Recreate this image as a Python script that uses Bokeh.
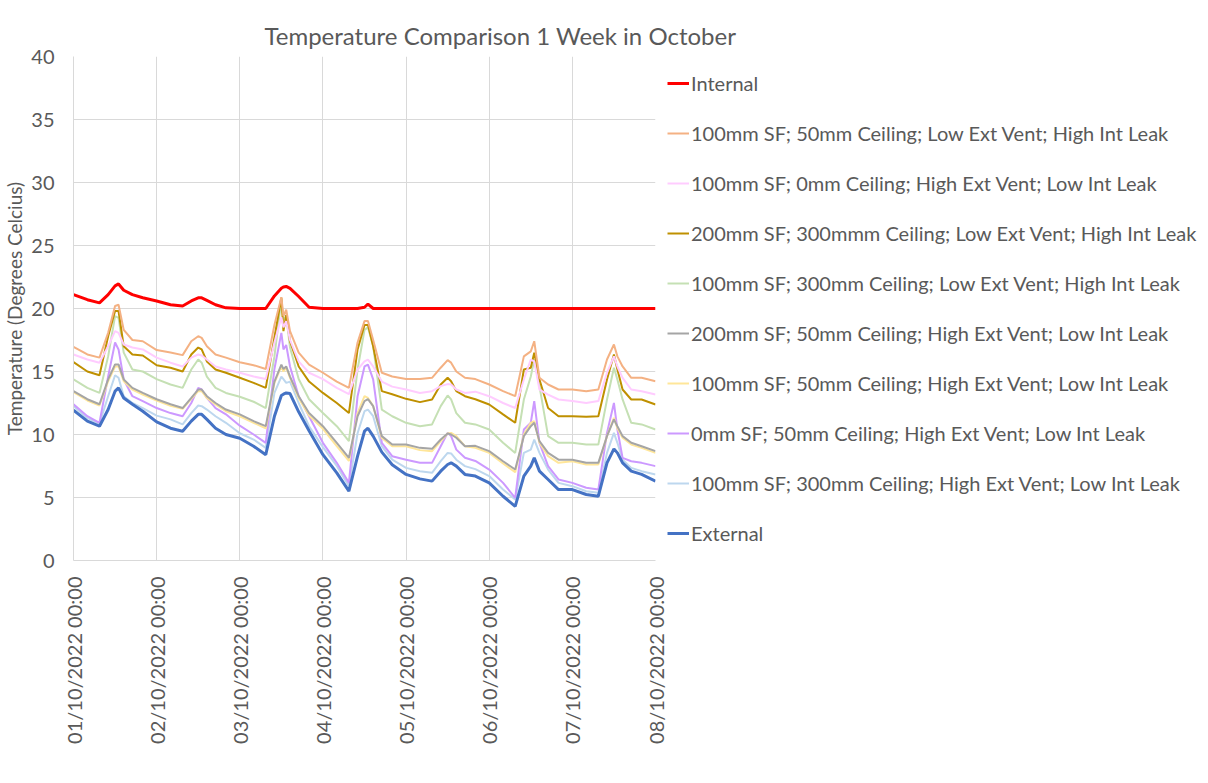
from bokeh.plotting import figure
from bokeh.models import Range1d, FixedTicker, Legend, LegendItem, Title
from bokeh.embed import file_html
from bokeh.resources import INLINE

# ---------------- data ----------------
hours = [0, 4, 7.5, 10, 12, 13, 14.5, 17, 20,
         24, 28, 31.5, 34, 36, 37, 38.5, 41, 44,
         48, 52, 55.5, 58, 60, 60.6, 61.4, 62.5, 65, 68,
         72, 76, 79.5, 82, 84, 85, 86.5, 89, 92,
         96, 100, 103.5, 106, 108, 109, 110.5, 113, 116,
         120, 124, 127.5, 130, 132, 133, 134.5, 137, 140,
         144, 148, 151.5, 154, 156, 157, 158.5, 161, 164, 168]

tick_labels = ["01/10/2022 00:00", "02/10/2022 00:00", "03/10/2022 00:00",
               "04/10/2022 00:00", "05/10/2022 00:00", "06/10/2022 00:00",
               "07/10/2022 00:00", "08/10/2022 00:00"]

internal = [21.1, 20.7, 20.45, 21.1, 21.8, 21.95, 21.45, 21.1, 20.85,
            20.6, 20.3, 20.2, 20.6, 20.85, 20.85, 20.65, 20.3, 20.05,
            20.0, 20.0, 20.0, 21.0, 21.6, 21.7, 21.75, 21.6, 20.95, 20.1,
            20.0, 20.0, 20.0, 20.0, 20.1, 20.35, 20.0, 20.0, 20.0,
            20.0, 20.0, 20.0, 20.0, 20.0, 20.0, 20.0, 20.0, 20.0,
            20.0, 20.0, 20.0, 20.0, 20.0, 20.0, 20.0, 20.0, 20.0,
            20.0, 20.0, 20.0, 20.0, 20.0, 20.0, 20.0, 20.0, 20.0, 20.0]

sf100_c50_lowvent_highleak = [
    16.96, 16.35, 16.1, 18.07, 20.2, 20.3, 18.3, 17.5, 17.4,
    16.7, 16.5, 16.3, 17.4, 17.8, 17.67, 17.0, 16.35, 16.1,
    15.74, 15.5, 15.2, 18.7, 20.9, 19.4, 19.9, 18.2, 16.5, 15.55,
    14.9, 14.2, 13.7, 17.3, 19.0, 19.0, 17.5, 14.9, 14.6,
    14.4, 14.4, 14.5, 15.3, 15.9, 15.7, 15.0, 14.5, 14.4,
    13.97, 13.44, 13.04, 16.2, 16.6, 17.4, 14.5, 13.97, 13.57,
    13.57, 13.44, 13.57, 15.95, 17.14, 16.2, 15.4, 14.5, 14.5, 14.23]

sf100_c0_highvent_lowleak = [
    16.35, 15.95, 15.7, 17.0, 18.2, 18.07, 17.14, 16.9, 16.75,
    16.1, 15.7, 15.4, 16.1, 16.35, 16.27, 15.95, 15.4, 15.16,
    14.9, 14.6, 14.4, 17.3, 19.3, 18.5, 19.0, 17.5, 15.8, 14.9,
    14.4, 13.7, 13.2, 15.16, 15.8, 15.95, 15.4, 14.2, 13.8,
    13.57, 13.3, 13.44, 13.84, 14.0, 13.97, 13.57, 13.3, 13.4,
    13.04, 12.5, 12.1, 14.37, 15.95, 15.8, 13.57, 13.17, 12.78,
    12.65, 12.5, 12.65, 14.9, 16.2, 15.4, 14.5, 13.57, 13.44, 13.17]

sf200_c300_lowvent_highleak = [
    15.74, 15.0, 14.7, 17.8, 19.8, 19.8, 17.0, 16.35, 16.27,
    15.5, 15.3, 15.0, 16.35, 16.9, 16.75, 15.8, 15.16, 14.9,
    14.5, 14.1, 13.7, 17.7, 20.85, 18.2, 19.5, 17.4, 15.4, 14.2,
    13.3, 12.5, 11.7, 16.75, 18.7, 18.7, 17.0, 13.44, 13.2,
    12.83, 12.57, 12.78, 13.97, 14.5, 14.23, 13.44, 13.04, 12.8,
    12.38, 11.6, 10.93, 15.16, 15.3, 16.5, 14.37, 12.1, 11.45,
    11.45, 11.4, 11.45, 14.37, 16.35, 15.16, 13.57, 12.78, 12.78, 12.38]

sf100_c300_lowvent_highleak = [
    14.37, 13.7, 13.3, 16.2, 19.4, 19.26, 16.5, 15.16, 15.0,
    14.4, 13.97, 13.7, 15.16, 15.95, 15.7, 14.6, 13.7, 13.3,
    13.0, 12.6, 12.1, 16.2, 20.7, 19.1, 19.4, 16.9, 14.4, 12.8,
    11.7, 10.66, 9.47, 15.16, 18.3, 18.5, 17.0, 11.98, 11.45,
    10.93, 10.66, 10.8, 12.25, 13.1, 12.78, 11.7, 10.93, 10.8,
    10.4, 9.34, 8.54, 12.78, 14.6, 15.95, 13.84, 9.87, 9.34,
    9.34, 9.2, 9.2, 12.78, 15.3, 14.37, 12.78, 10.93, 10.8, 10.4]

sf200_c50_highvent_lowleak = [
    13.44, 12.8, 12.4, 14.37, 15.56, 15.56, 14.37, 13.7, 13.3,
    12.8, 12.4, 12.1, 12.9, 13.57, 13.57, 13.04, 12.5, 11.98,
    11.6, 11.06, 10.66, 14.2, 15.55, 15.2, 15.4, 14.6, 13.04, 11.7,
    10.66, 9.34, 8.15, 11.45, 12.65, 12.8, 12.25, 9.87, 9.2,
    9.2, 8.94, 8.86, 9.6, 10.08, 10.0, 9.74, 9.07, 9.1,
    8.68, 7.88, 7.22, 9.87, 10.66, 10.93, 9.47, 8.54, 8.0,
    8.0, 7.75, 7.75, 9.87, 11.2, 10.66, 9.87, 9.34, 9.07, 8.68]

sf100_c50_highvent_lowleak = [
    13.36, 12.7, 12.3, 14.23, 15.4, 15.4, 14.23, 13.57, 13.17,
    12.7, 12.27, 12.04, 12.83, 13.44, 13.44, 12.9, 12.38, 11.85,
    11.45, 10.93, 10.48, 14.1, 15.4, 15.0, 15.3, 14.5, 12.9, 11.5,
    10.45, 9.07, 7.9, 11.7, 13.04, 12.9, 12.25, 9.73, 9.07,
    9.07, 8.76, 8.68, 9.47, 10.08, 10.13, 9.87, 9.07, 8.95,
    8.54, 7.7, 7.0, 10.0, 10.93, 11.06, 9.34, 8.28, 7.75,
    7.88, 7.62, 7.62, 9.87, 11.32, 10.5, 9.74, 9.2, 8.94, 8.54]

sf0_c50_highvent_lowleak = [
    12.4, 11.45, 10.93, 14.6, 17.3, 16.75, 14.37, 13.04, 12.65,
    12.1, 11.7, 11.45, 12.5, 13.7, 13.57, 12.9, 12.1, 11.6,
    10.7, 10.0, 9.34, 15.2, 18.07, 16.75, 17.1, 15.4, 13.04, 11.45,
    9.34, 7.75, 6.16, 13.04, 15.4, 15.55, 14.37, 9.34, 8.28,
    8.0, 7.75, 7.75, 9.07, 10.13, 9.87, 8.8, 8.15, 7.9,
    7.22, 6.16, 4.97, 10.4, 10.93, 12.65, 9.34, 7.49, 6.43,
    6.16, 5.77, 5.63, 10.13, 12.5, 10.4, 8.15, 7.88, 7.75, 7.49]

sf100_c300_highvent_lowleak = [
    12.25, 11.3, 10.87, 13.04, 14.7, 14.5, 13.04, 12.5, 12.1,
    11.5, 11.2, 10.8, 11.7, 12.3, 12.25, 11.98, 11.45, 10.93,
    10.1, 9.6, 8.94, 13.3, 14.6, 14.4, 14.1, 14.2, 12.5, 10.66,
    9.0, 7.5, 5.9, 10.1, 11.85, 11.98, 11.45, 9.07, 8.0,
    7.35, 7.09, 6.96, 7.88, 8.54, 8.5, 8.0, 7.49, 7.25,
    6.7, 5.63, 4.84, 8.54, 8.8, 9.6, 8.54, 7.22, 6.16,
    5.9, 5.5, 5.37, 8.54, 10.13, 9.34, 8.0, 7.35, 7.09, 6.83]

external = [11.93, 11.06, 10.66, 11.98, 13.44, 13.7, 12.9, 12.4, 11.85,
            11.0, 10.5, 10.26, 11.06, 11.6, 11.6, 11.2, 10.5, 10.0,
            9.7, 9.07, 8.4, 11.45, 13.1, 13.2, 13.3, 13.25, 11.8, 10.3,
            8.4, 6.96, 5.5, 8.28, 10.26, 10.5, 9.87, 8.6, 7.6,
            6.83, 6.48, 6.3, 7.09, 7.62, 7.75, 7.49, 6.83, 6.7,
            6.16, 5.1, 4.3, 6.7, 7.49, 8.15, 7.09, 6.43, 5.63,
            5.63, 5.24, 5.1, 7.75, 8.86, 8.54, 7.75, 7.09, 6.83, 6.3]

names = ["Internal",
         "100mm SF; 50mm Ceiling; Low Ext Vent; High Int Leak",
         "100mm SF; 0mm Ceiling; High Ext Vent; Low Int Leak",
         "200mm SF; 300mmm Ceiling; Low Ext Vent; High Int Leak",
         "100mm SF; 300mm Ceiling; Low Ext Vent; High Int Leak",
         "200mm SF; 50mm Ceiling; High Ext Vent; Low Int Leak",
         "100mm SF; 50mm Ceiling; High Ext Vent; Low Int Leak",
         "0mm SF; 50mm Ceiling; High Ext Vent; Low Int Leak",
         "100mm SF; 300mm Ceiling; High Ext Vent; Low Int Leak",
         "External"]
series = [internal, sf100_c50_lowvent_highleak, sf100_c0_highvent_lowleak,
          sf200_c300_lowvent_highleak, sf100_c300_lowvent_highleak,
          sf200_c50_highvent_lowleak, sf100_c50_highvent_lowleak,
          sf0_c50_highvent_lowleak, sf100_c300_highvent_lowleak, external]
colors = ["#FF0000", "#F4B183", "#FFCCFF", "#BF9000", "#C5E0B4",
          "#A5A5A5", "#FFE699", "#CC99FF", "#BDD7EE", "#4472C4"]
widths = [3, 2, 2, 2, 2, 2, 2, 2, 2, 3]

FONT = "Lato"
TXT = "#595959"

days = [h / 24.0 for h in hours]

p = figure(frame_width=582, frame_height=504,
           min_border_left=65, min_border_top=56, min_border_bottom=200,
           min_border_right=10,
           x_range=Range1d(0, 7), y_range=Range1d(0, 40),
           output_backend="svg", toolbar_location=None,
           background_fill_color="white", border_fill_color="white",
           outline_line_color=None)

p.add_layout(Title(text="Temperature Comparison 1 Week in October", align="left",
                   offset=191, text_font=FONT, text_font_size="24px",
                   text_font_style="normal", text_color=TXT, standoff=13), "above")

draw_order = [8, 7, 6, 5, 4, 3, 2, 1, 9, 0]
rmap = {}
for i in draw_order:
    r = p.line(days, series[i], line_color=colors[i], line_width=widths[i])
    rmap[i] = r

items = [LegendItem(label=names[i], renderers=[rmap[i]]) for i in range(len(names))]
legend = Legend(items=items, location="top_left",
                label_text_font=FONT, label_text_font_size="20px",
                label_text_color=TXT, glyph_width=22, glyph_height=30,
                label_height=30, label_standoff=2, spacing=20, padding=0,
                margin=12, border_line_color=None, background_fill_alpha=0)
p.add_layout(legend, "right")

# axes
p.xaxis.ticker = FixedTicker(ticks=list(range(8)))
p.xaxis.major_label_overrides = {i: tick_labels[i] for i in range(8)}
p.xaxis.major_label_orientation = 3.14159265 / 2
p.xaxis.major_label_text_font = FONT
p.xaxis.major_label_text_font_size = "20px"
p.xaxis.major_label_text_color = TXT
p.xaxis.major_label_standoff = 10
p.xaxis.axis_line_color = "#D9D9D9"
p.xaxis.major_tick_line_color = None
p.xaxis.minor_tick_line_color = None

p.yaxis.ticker = FixedTicker(ticks=[0, 5, 10, 15, 20, 25, 30, 35, 40])
p.yaxis.major_label_text_font = FONT
p.yaxis.major_label_text_font_size = "20px"
p.yaxis.major_label_text_color = TXT
p.yaxis.major_label_standoff = 13
p.yaxis.axis_line_color = "#D9D9D9"
p.yaxis.major_tick_line_color = None
p.yaxis.minor_tick_line_color = None
p.yaxis.axis_label = "Temperature (Degrees Celcius)"
p.yaxis.axis_label_text_font = FONT
p.yaxis.axis_label_text_font_size = "19px"
p.yaxis.axis_label_text_font_style = "normal"
p.yaxis.axis_label_text_color = TXT
p.yaxis.axis_label_standoff = 2

p.xgrid.grid_line_color = "#D9D9D9"
p.ygrid.grid_line_color = "#D9D9D9"
p.xgrid.ticker = FixedTicker(ticks=list(range(8)))

open("out.html", "w").write(file_html(p, INLINE))
